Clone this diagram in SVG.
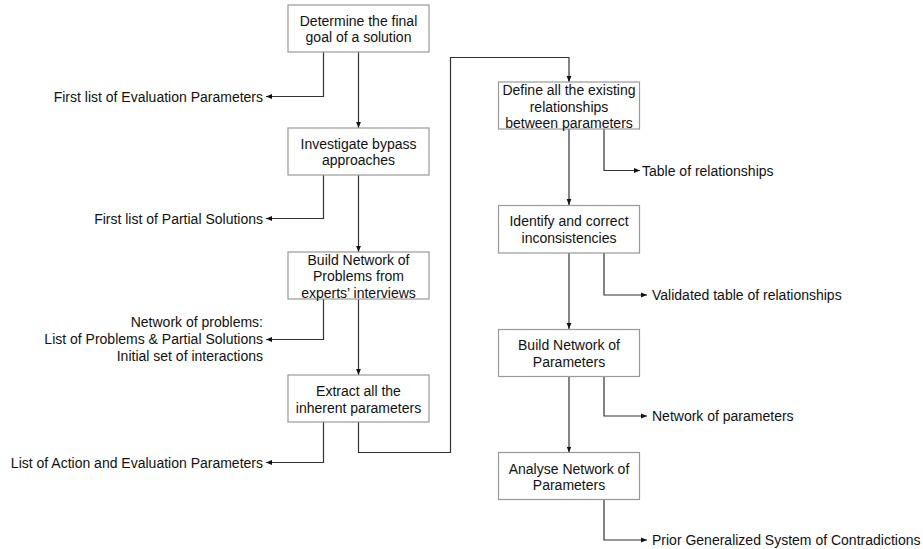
<svg xmlns="http://www.w3.org/2000/svg" width="923" height="549" viewBox="0 0 923 549">
<defs>
<marker id="ah" viewBox="0 0 6 6" refX="6" refY="3" markerWidth="6" markerHeight="6" markerUnits="userSpaceOnUse" orient="auto">
<path d="M0,0.6 L6,3 L0,5.4 Z" fill="#111"/>
</marker>
<style>
.box{fill:#fff;stroke:#999;stroke-width:1.2}
.t{font-family:"Liberation Sans",Arial,Helvetica,sans-serif;font-size:14px;fill:#111}
.c{text-anchor:middle}
.e{text-anchor:end}
.ln{fill:none;stroke:#333;stroke-width:1.2}
.ar{marker-end:url(#ah)}
</style>
</defs>
<rect width="923" height="549" fill="#fff"/>
<g id="connectors">
<path class="ln ar" d="M358.5,52 V128"/>
<path class="ln ar" d="M358.5,175 V252"/>
<path class="ln ar" d="M358.5,299 V375"/>
<path class="ln ar" d="M358.5,422 V452.5 H450.5 V57.5 H569 V82"/>
<path class="ln ar" d="M569,129 V205"/>
<path class="ln ar" d="M569,253 V329"/>
<path class="ln ar" d="M569,376 V452.5"/>
<path class="ln ar" d="M323.5,52 V96.5 H266"/>
<path class="ln ar" d="M323.5,175 V218.5 H266"/>
<path class="ln ar" d="M323.5,299 V339.5 H266"/>
<path class="ln ar" d="M323.5,422 V462.5 H266"/>
<path class="ln ar" d="M604,129 V170.5 H640"/>
<path class="ln ar" d="M604,253 V295 H647"/>
<path class="ln ar" d="M604,376 V416 H647"/>
<path class="ln ar" d="M604,500 V540 H647"/>
</g>
<g id="n1"><rect class="box" x="288" y="5" width="141" height="47"/>
<text class="t c" x="358.5" y="26">Determine the final</text><text class="t c" x="358.5" y="42">goal of a solution</text></g>
<g id="n2"><rect class="box" x="288" y="128" width="141" height="47"/>
<text class="t c" x="358.5" y="149">Investigate bypass</text><text class="t c" x="358.5" y="165">approaches</text></g>
<g id="n3"><rect class="box" x="288" y="252" width="141" height="47"/>
<text class="t c" x="358.5" y="264.5">Build Network of</text><text class="t c" x="358.5" y="281">Problems from</text><text class="t c" x="358.5" y="297.5">experts’ interviews</text></g>
<g id="n4"><rect class="box" x="288" y="375" width="141" height="47"/>
<text class="t c" x="358.5" y="396">Extract all the</text><text class="t c" x="358.5" y="413">inherent parameters</text></g>
<g id="n5"><rect class="box" x="498.5" y="82" width="141" height="47"/>
<text class="t c" x="569" y="95">Define all the existing</text><text class="t c" x="569" y="111.5">relationships</text><text class="t c" x="569" y="128">between parameters</text></g>
<g id="n6"><rect class="box" x="498.5" y="205.5" width="141" height="47.5"/>
<text class="t c" x="569" y="226">Identify and correct</text><text class="t c" x="569" y="243">inconsistencies</text></g>
<g id="n7"><rect class="box" x="498.5" y="329.5" width="141" height="47"/>
<text class="t c" x="569" y="350">Build Network of</text><text class="t c" x="569" y="367">Parameters</text></g>
<g id="n8"><rect class="box" x="498.5" y="452.5" width="141" height="47"/>
<text class="t c" x="569" y="474">Analyse Network of</text><text class="t c" x="569" y="490">Parameters</text></g>
<g id="o1"><text class="t e" x="263" y="101.5">First list of Evaluation Parameters</text></g>
<g id="o2"><text class="t e" x="263" y="223.5">First list of Partial Solutions</text></g>
<g id="o3"><text class="t e" x="263" y="327">Network of problems:</text><text class="t e" x="263" y="344">List of Problems &amp; Partial Solutions</text><text class="t e" x="263" y="360.5">Initial set of interactions</text></g>
<g id="o4"><text class="t e" x="263" y="467.5">List of Action and Evaluation Parameters</text></g>
<g id="o5"><text class="t" x="642" y="175.5">Table of relationships</text></g>
<g id="o6"><text class="t" x="652" y="300">Validated table of relationships</text></g>
<g id="o7"><text class="t" x="652" y="421">Network of parameters</text></g>
<g id="o8"><text class="t" x="652" y="545">Prior Generalized System of Contradictions</text></g>
</svg>
